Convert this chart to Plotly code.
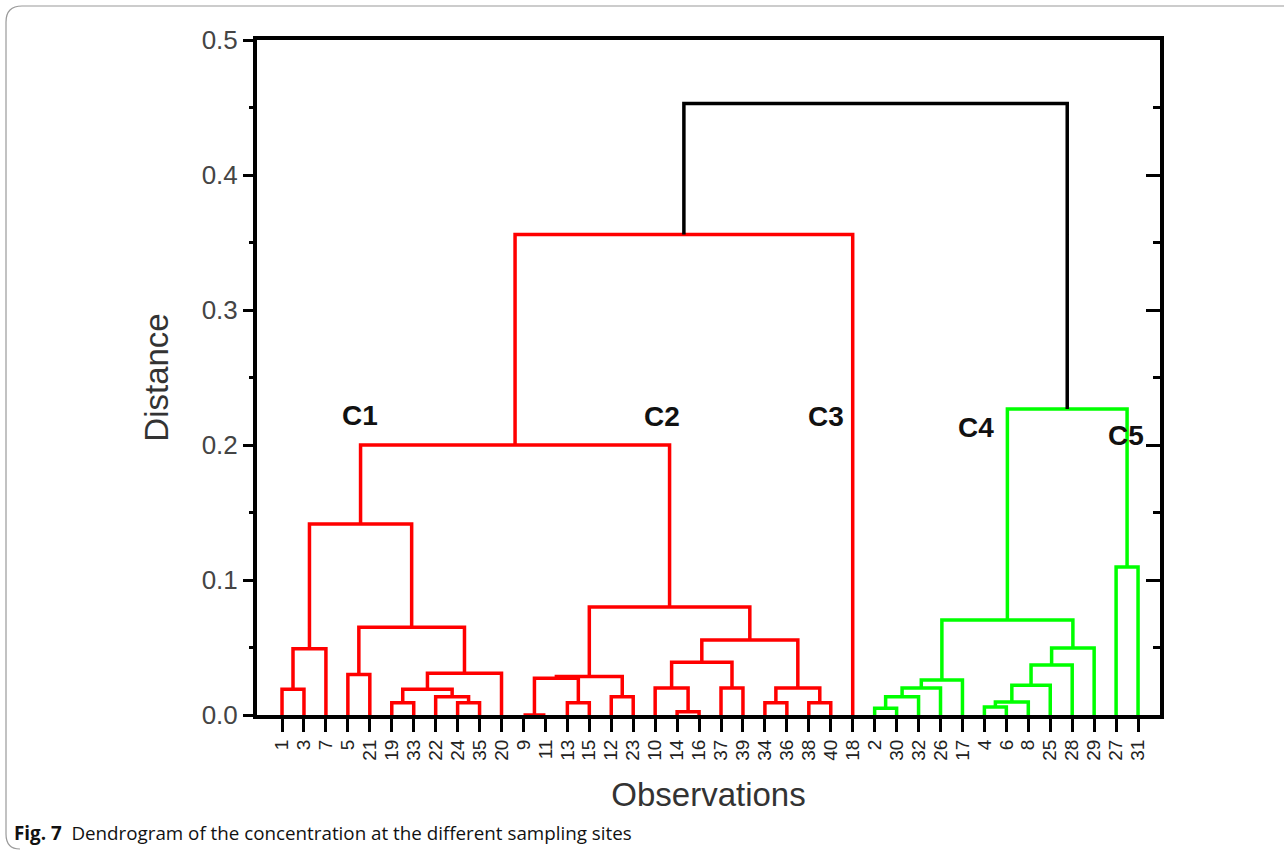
import plotly.graph_objects as go

# ---------------- data ----------------
leaf_labels = ["1", "3", "7", "5", "21", "19", "33", "22", "24", "35", "20",
               "9", "11", "13", "15", "12", "23", "10", "14", "16", "37", "39",
               "34", "36", "38", "40", "18",
               "2", "30", "32", "26", "17", "4", "6", "8", "25", "28", "29",
               "27", "31"]

# dendrogram merges: node name, left child, right child, distance, colour group
merge_names = ["a1", "a2", "a3", "a4", "a5", "a6", "a7", "a8", "a9", "C1",
               "b1", "b2", "b3", "b4", "b5", "b6", "b7", "b8", "b9", "b10",
               "b11", "b12", "b13", "C2", "C12", "R",
               "g1", "g2", "g3", "g4", "g5", "g6", "g7", "g8", "g9", "C4",
               "C5", "G", "ROOT"]
merge_left = ["1", "a1", "5", "19", "24", "22", "a4", "a7", "a3", "a2",
              "9", "13", "b1", "12", "b3", "14", "10", "37", "b7", "34",
              "38", "b10", "b9", "b5", "C1", "C12",
              "2", "g1", "g2", "g3", "4", "g5", "g6", "g7", "g8", "g4",
              "27", "C4", "R"]
merge_right = ["3", "7", "21", "33", "35", "a5", "a6", "20", "a8", "a9",
               "11", "15", "b2", "23", "b4", "16", "b6", "39", "b8", "36",
               "40", "b11", "b12", "b13", "C2", "18",
               "30", "32", "26", "17", "6", "8", "25", "28", "29", "g9",
               "31", "C5", "G"]
merge_height = [0.019, 0.049, 0.030, 0.009, 0.009, 0.0135, 0.019, 0.031, 0.065, 0.1415,
                0.0, 0.009, 0.0272, 0.0135, 0.0285, 0.0025, 0.020, 0.020, 0.039, 0.009,
                0.009, 0.020, 0.0556, 0.080, 0.200, 0.356,
                0.005, 0.0135, 0.020, 0.026, 0.006, 0.0096, 0.022, 0.037, 0.0496, 0.0704,
                0.1096, 0.2267, 0.453]
merge_group = ["red"] * 26 + ["green"] * 12 + ["black"]

cluster_names = ["C1", "C2", "C3", "C4", "C5"]
y_tick_vals = [0, 0.1, 0.2, 0.3, 0.4, 0.5]
y_tick_text = ["0.0", "0.1", "0.2", "0.3", "0.4", "0.5"]
y_minor_vals = [0.05, 0.15, 0.25, 0.35, 0.45]

group_colors = {"red": "#FF0000", "green": "#00FF00", "black": "#000000"}

# ---------------- build dendrogram geometry ----------------
pos = {lab: float(i) for i, lab in enumerate(leaf_labels)}
hgt = {lab: 0.0 for lab in leaf_labels}
segs = {"red": ([], []), "green": ([], []), "black": ([], [])}
for name, l, r, h, g in zip(merge_names, merge_left, merge_right, merge_height, merge_group):
    xl, xr = pos[l], pos[r]
    xs, ys = segs[g]
    xs += [xl, xl, xr, xr, None]
    ys += [hgt[l], h, h, hgt[r], None]
    pos[name] = (xl + xr) / 2
    hgt[name] = h

fig = go.Figure()
for g in ["red", "green", "black"]:
    xs, ys = segs[g]
    fig.add_trace(go.Scatter(x=xs, y=ys, mode="lines",
                             line=dict(color=group_colors[g], width=3.5),
                             hoverinfo="skip", showlegend=False, cliponaxis=False))
# invisible trace for the right-hand mirrored axis
fig.add_trace(go.Scatter(x=[0], y=[0], yaxis="y2", mode="markers",
                         marker=dict(opacity=0), showlegend=False, hoverinfo="skip"))

# ---------------- layout ----------------
W, H = 1284, 850
ML, MR, MT, MB = 257, 124, 40, 135
PW, PH = W - ML - MR, H - MT - MB


def px2paper(px, py):
    return (px - ML) / PW, (H - MB - py) / PH


font_main = "Liberation Sans, Arial, sans-serif"

fig.update_layout(
    width=W, height=H,
    margin=dict(l=ML, r=MR, t=MT, b=MB, pad=0),
    paper_bgcolor="white", plot_bgcolor="white",
    xaxis=dict(range=[-1.14, 40.0], tickmode="array",
               tickvals=list(range(len(leaf_labels))), ticktext=leaf_labels,
               tickangle=-90, ticks="outside", ticklen=13, tickwidth=3, tickcolor="black",
               showline=True, linecolor="black", linewidth=4, mirror=True,
               showgrid=False, zeroline=False,
               tickfont=dict(family=font_main, size=19, color="#222"),
               title=dict(text="Observations", font=dict(family=font_main, size=33, color="#333"),
                          standoff=24)),
    yaxis=dict(range=[0, 0.5], tickmode="array",
               tickvals=y_tick_vals, ticktext=y_tick_text,
               ticks="outside", ticklen=10, tickwidth=3, tickcolor="black",
               minor=dict(tickvals=y_minor_vals, ticks="outside",
                          ticklen=4, tickwidth=3, tickcolor="black"),
               showline=True, linecolor="black", linewidth=4, mirror=False,
               showgrid=False, zeroline=False,
               tickfont=dict(family=font_main, size=26, color="#444"),
               title=dict(text="Distance", font=dict(family=font_main, size=33, color="#333"),
                          standoff=24)),
    yaxis2=dict(range=[0, 0.5], overlaying="y", side="right",
                tickmode="array", tickvals=y_tick_vals,
                ticks="inside", ticklen=14, tickwidth=3, tickcolor="black",
                minor=dict(tickvals=y_minor_vals, ticks="inside",
                           ticklen=7, tickwidth=3, tickcolor="black"),
                showticklabels=False, showline=True, linecolor="black", linewidth=4,
                showgrid=False, zeroline=False),
)

# cluster labels
cluster_x = [3.55, 17.3, 24.8, 31.6, 38.45]
cluster_y = [0.222, 0.221, 0.221, 0.213, 0.207]
for name, cx, cy in zip(cluster_names, cluster_x, cluster_y):
    fig.add_annotation(x=cx, y=cy, text="<b>%s</b>" % name, showarrow=False,
                       font=dict(family=font_main, size=28, color="#111"))

# caption
cx, cy = px2paper(12, 833)
fig.add_annotation(xref="paper", yref="paper", x=cx, y=cy, xanchor="left", yanchor="middle",
                   text="<b>Fig. 7</b>  Dendrogram of the concentration at the different sampling sites",
                   showarrow=False, font=dict(family="Open Sans, Noto Sans, sans-serif", size=18.8, color="#111"))

# rounded frame around the figure
p1 = px2paper(1300, 6)
p2 = px2paper(22, 6)
p3 = px2paper(6, 6)
p4 = px2paper(6, 22)
p5 = px2paper(6, 834)
p6 = px2paper(6, 849)
p7 = px2paper(20, 849)
path = ("M %f,%f L %f,%f Q %f,%f %f,%f L %f,%f Q %f,%f %f,%f" %
        (p1[0], p1[1], p2[0], p2[1], p3[0], p3[1], p4[0], p4[1],
         p5[0], p5[1], p6[0], p6[1], p7[0], p7[1]))
fig.add_shape(type="path", xref="paper", yref="paper", path=path,
              line=dict(color="#9a9a9a", width=1.2))

fig.write_html("out.html", config={"displayModeBar": False},
               post_script="document.body.style.margin='0';document.body.style.overflow='hidden';")
